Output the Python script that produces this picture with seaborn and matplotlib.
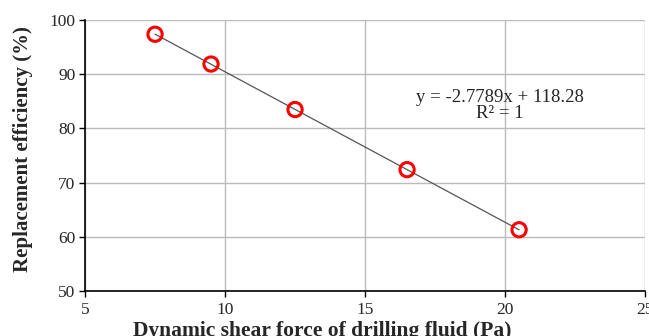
import matplotlib
matplotlib.use("Agg")
import matplotlib.pyplot as plt
import seaborn as sns
import pandas as pd

shear_force = [7.5, 9.5, 12.5, 16.5, 20.5]
efficiency = [97.4, 91.9, 83.5, 72.4, 61.3]
x_ticks = [5, 10, 15, 20, 25]
y_ticks = [50, 60, 70, 80, 90, 100]

df = pd.DataFrame({"force": shear_force, "eff": efficiency})

sns.set_style("white")
plt.rcParams["font.family"] = ["Liberation Serif", "DejaVu Serif"]

fig = plt.figure(figsize=(6.49, 3.36), dpi=100)
ax = fig.add_axes([0.131, 0.134, 0.863, 0.806])

# linear trendline over the data range
sns.regplot(data=df, x="force", y="eff", ax=ax, scatter=False, ci=None,
            truncate=True, line_kws=dict(color="#555555", lw=0.9))
sns.scatterplot(data=df, x="force", y="eff", ax=ax, marker="o", s=105,
                facecolor="none", edgecolor="red", linewidth=2.2, zorder=3)

ax.set_xlim(5, 25)
ax.set_ylim(50, 100)
ax.set_xticks(x_ticks)
ax.set_yticks(y_ticks)
ax.grid(True, color="#bbbbbb", lw=1)
ax.set_axisbelow(True)

for s in ["top", "right"]:
    ax.spines[s].set_visible(False)
for s in ["left", "bottom"]:
    ax.spines[s].set_color("black")
    ax.spines[s].set_linewidth(1.2)

ax.tick_params(axis="both", direction="out", length=4, width=1, color="black",
               labelsize=12.5, bottom=True, left=True)
ax.tick_params(axis="x", pad=4)
ax.tick_params(axis="y", pad=3)

ax.set_xlabel("")
ax.set_ylabel("")
fig.text(0.497, 0.046, "Dynamic shear force of drilling fluid (Pa)",
         fontsize=15.5, fontweight="bold", ha="center", va="top")
fig.text(0.036, 0.555, "Replacement efficiency (%)", fontsize=15,
         fontweight="bold", ha="center", va="center", rotation=90)

ax.text(19.8, 85.8, "y = -2.7789x + 118.28", ha="center", va="center", fontsize=13.5)
ax.text(19.8, 82.8, "R² = 1", ha="center", va="center", fontsize=13.5)

fig.savefig("out.png", dpi=100)
